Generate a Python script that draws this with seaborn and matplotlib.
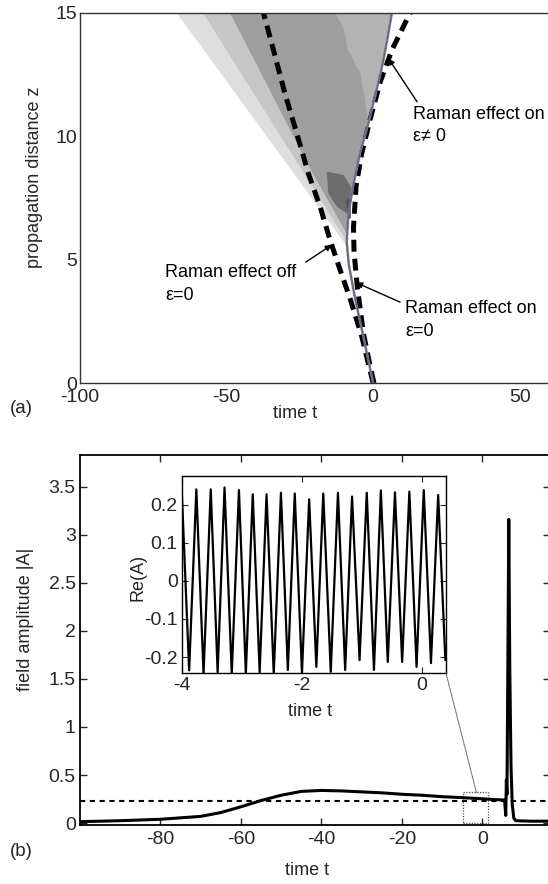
import numpy as np
import pandas as pd
import seaborn as sns
import matplotlib.pyplot as plt
from matplotlib.patches import Rectangle, ConnectionPatch

## ---------------- panel (a) data : trajectories in the (t, z) plane ----------------
# thin line from the simulations (Raman on, eps != 0)
traj_t = [0.0, -3.0, -6.1, -8.3, -9.0, -8.5, -6.8, -4.5, -1.7, 0.8, 3.0, 4.8, 6.4]
traj_z = [0.0, 1.7, 3.4, 4.8, 5.7, 6.8, 8.0, 9.3, 10.5, 11.7, 12.8, 13.9, 15.0]
# dashed curve, Raman effect off, eps = 0
off_t = [0.0, -3.9, -7.8, -11.3, -14.7, -18.1, -22.1, -26.0, -30.0, -34.0, -37.4]
off_z = [0.0, 1.9, 3.4, 4.6, 5.8, 7.15, 8.5, 10.1, 11.7, 13.5, 15.0]
# dashed curve, Raman effect on, eps = 0
on_t = [0.3, -0.5, -3.3, -5.4, -6.5, -6.7, -5.8, -3.9, -1.0, 2.4, 6.4, 12.6]
on_z = [0.0, 0.4, 2.0, 3.9, 5.3, 6.3, 8.0, 9.3, 10.7, 12.2, 13.5, 15.0]

# left edges of the gray contour levels (from the apex upwards)
lvl1_t, lvl1_z = [-9.3, -67.0], [5.6, 15.0]
lvl2_t, lvl2_z = [-9.3, -58.0], [5.8, 15.0]
lvl3_t, lvl3_z = [-9.2, -22.0, -48.8], [6.1, 8.8, 15.0]
# lighter patch in the upper right of the cone
patch_t = [-13.0, -11.5, -10.5, -9.5, -8.8, -7.5, -6.0, -4.4, -3.6, -2.8, -2.2, -1.7]
patch_z = [15.0, 14.7, 14.5, 14.1, 13.5, 13.3, 12.9, 12.6, 12.0, 11.6, 11.0, 10.5]
# dark blob
blob_t = [-15.8, -10.1, -7.3, -7.3, -9.0, -12.4, -15.3]
blob_z = [8.57, 8.43, 7.9, 7.4, 6.88, 7.15, 7.7]
core_t = [-9.2, -7.6, -7.6, -8.6]
core_z = [7.4, 7.5, 6.7, 6.6]
level_colors = ["#dedede", "#c6c6c6", "#9e9e9e", "#b3b3b3", "#6c6c6c", "#505050"]

## ---------------- panel (b) data : field amplitude ----------------
amp_t = [-100, -90, -80, -70, -65, -60, -55, -50, -45, -40, -35, -30, -25, -20, -15,
         -10, -5, 0, 3, 5.5, 5.8, 5.95, 6.1, 6.3, 6.55, 6.8, 7.1, 7.4, 7.8, 8.3, 12, 16.8]
amp_A = [0.015, 0.025, 0.04, 0.07, 0.11, 0.17, 0.235, 0.29, 0.33, 0.34, 0.335, 0.325, 0.315,
         0.30, 0.29, 0.275, 0.265, 0.253, 0.245, 0.24, 0.08, 0.45, 0.3, 1.5, 3.16, 1.6, 0.6,
         0.2, 0.05, 0.025, 0.02, 0.02]
ref_level = 0.235
box_t0, box_t1, box_A = -4.9, 1.5, 0.32

# inset Re(A): positions and values of the maxima / minima
peak_t = [-3.76, -3.52, -3.29, -3.05, -2.82, -2.59, -2.35, -2.12, -1.88, -1.645,
          -1.40, -1.165, -0.92, -0.685, -0.45, -0.21, 0.03, 0.27]
peak_v = [0.241, 0.241, 0.246, 0.239, 0.228, 0.228, 0.232, 0.23, 0.215, 0.23,
          0.232, 0.222, 0.232, 0.238, 0.233, 0.235, 0.239, 0.226]
trough_t = [-3.88, -3.64, -3.405, -3.17, -2.935, -2.705, -2.47, -2.235, -2.0, -1.76,
            -1.52, -1.28, -1.04, -0.80, -0.57, -0.33, -0.09, 0.15, 0.39]
trough_v = [-0.235, -0.245, -0.24, -0.245, -0.243, -0.24, -0.245, -0.234, -0.242, -0.226,
            -0.239, -0.234, -0.208, -0.234, -0.213, -0.213, -0.226, -0.216, -0.208]
start_t, start_v = -4.0, 0.225

a_xticks = [-100, -50, 0, 50]
a_yticks = [0, 5, 10, 15]
b_xticks = [-80, -60, -40, -20, 0]
b_yticks = [0, 0.5, 1, 1.5, 2, 2.5, 3, 3.5]
b_ylabels = ["0", "0.5", "1", "1.5", "2", "2.5", "3", "3.5"]
in_xticks = [-4, -2, 0]
in_yticks = [-0.2, -0.1, 0, 0.1, 0.2]
in_ylabels = ["-0.2", "-0.1", "0", "0.1", "0.2"]

sns.set_theme(style="white")
plt.rcParams['font.family'] = ['Liberation Sans', 'DejaVu Sans']
plt.rcParams['axes.edgecolor'] = 'black'

fig = plt.figure(figsize=(5.48, 8.84), dpi=100)

TICK = 14
LAB = 13

## ---- panel (a) ----
ax = fig.add_axes([0.146, 0.5667, 0.8558, 0.4186])

# gray levels: left edge up, then trajectory back down to the apex
apex = 4
right_t = traj_t[apex:][::-1]
right_z = traj_z[apex:][::-1]
for lt, lz, c in [(lvl1_t, lvl1_z, level_colors[0]),
                  (lvl2_t, lvl2_z, level_colors[1]),
                  (lvl3_t, lvl3_z, level_colors[2])]:
    ax.fill(lt + right_t, lz + right_z, color=c, lw=0)
ax.fill(patch_t + traj_t[8:], patch_z + traj_z[8:], color=level_colors[3], lw=0)
ax.fill(blob_t, blob_z, color=level_colors[4], lw=0)
ax.fill(core_t, core_z, color=level_colors[5], lw=0)

dash = (0, (2.4, 1.4))
sns.lineplot(x=off_t, y=off_z, sort=False, estimator=None, ax=ax,
             color='black', lw=3.6, linestyle=dash, dash_capstyle='butt')
sns.lineplot(x=on_t, y=on_z, sort=False, estimator=None, ax=ax,
             color='black', lw=3.6, linestyle=dash, dash_capstyle='butt')
sns.lineplot(x=traj_t, y=traj_z, sort=False, estimator=None, ax=ax,
             color='#8a7fa2', lw=1.8)
for c, off in [('#c0392b', 0), ('#2e8b57', 1.3), ('#3050c0', 2.6)]:
    ax.plot(traj_t, traj_z, color=c, lw=1.0, linestyle=(off, (1, 3)))

ax.set_xlim(-100, 60)
ax.set_ylim(0, 15)
ax.set_xticks(a_xticks)
ax.set_xticklabels([str(v) for v in a_xticks])
ax.set_yticks(a_yticks)
ax.set_yticklabels([str(v) for v in a_yticks])
ax.tick_params(length=0, labelsize=TICK, pad=2)
ax.tick_params(axis='x', pad=4)
ax.spines['right'].set_visible(False)
for s in ['top', 'left', 'bottom']:
    ax.spines[s].set_linewidth(1.0)
    ax.spines[s].set_color('#333333')
ax.set_xlabel("time t", fontsize=LAB, va='center')
ax.set_ylabel("propagation distance z", fontsize=LAB, va='center')
ax.xaxis.set_label_coords(0.458, -0.081)
ax.yaxis.set_label_coords(-0.096, 0.557)

txt = dict(fontsize=13, ha='left', va='top', linespacing=1.45, color='black')
arw = dict(arrowstyle='-|>', color='black', lw=1.0, mutation_scale=9, shrinkA=0, shrinkB=0)
ax.text(-71, 4.82, "Raman effect off\nε=0", **txt)
ax.annotate('', xy=(-14.1, 5.6), xytext=(-23.0, 4.9), arrowprops=arw)
ax.text(13.65, 11.25, "Raman effect on\nε≠ 0", **txt)
ax.annotate('', xy=(5.2, 13.16), xytext=(15.0, 11.4), arrowprops=arw)
ax.text(10.9, 3.36, "Raman effect on\nε=0", **txt)
ax.annotate('', xy=(-5.8, 4.07), xytext=(9.2, 3.28), arrowprops=arw)

fig.text(0.018, 0.538, "(a)", fontsize=13.5, va='center')

## ---- panel (b) ----
axb = fig.add_axes([0.146, 0.0667, 0.8577, 0.4186])
sns.lineplot(x=amp_t, y=amp_A, sort=False, estimator=None, ax=axb, color='black', lw=2.2)
axb.axhline(ref_level, color='black', lw=1.5, linestyle=(0, (2.5, 2.2)))
axb.add_patch(Rectangle((box_t0, 0), box_t1 - box_t0, box_A, fill=False,
                        ec='0.3', lw=0.9, linestyle=(0, (1, 1.2))))
axb.set_xlim(-100, 16.8)
axb.set_ylim(-0.02, 3.83)
axb.set_xticks(b_xticks)
axb.set_xticklabels([str(v) for v in b_xticks])
axb.set_yticks(b_yticks)
axb.set_yticklabels(b_ylabels)
axb.tick_params(direction='in', length=5, width=1.0, labelsize=TICK, pad=4,
                top=True, right=True, left=True, bottom=True)
axb.tick_params(axis='y', pad=3)
for s in axb.spines.values():
    s.set_linewidth(1.3)
axb.set_xlabel("time t", fontsize=LAB, va='center')
axb.set_ylabel("field amplitude |A|", fontsize=LAB, va='center')
axb.xaxis.set_label_coords(0.483, -0.122)
axb.yaxis.set_label_coords(-0.117, 0.557)
fig.text(0.018, 0.0373, "(b)", fontsize=13.5, va='center')

## ---- inset ----
re_t = [start_t]
re_v = [start_v]
for i in range(len(peak_t)):
    re_t += [trough_t[i], peak_t[i]]
    re_v += [trough_v[i], peak_v[i]]
re_t.append(trough_t[-1])
re_v.append(trough_v[-1])

axin = fig.add_axes([0.332, 0.2387, 0.4818, 0.2228])
sns.lineplot(x=re_t, y=re_v, sort=False, estimator=None, ax=axin, color='black', lw=1.6)
axin.set_xlim(-4, 0.4)
axin.set_ylim(-0.242, 0.276)
axin.set_xticks(in_xticks)
axin.set_xticklabels([str(v) for v in in_xticks])
axin.set_yticks(in_yticks)
axin.set_yticklabels(in_ylabels)
axin.tick_params(direction='in', length=4, width=0.8, labelsize=TICK, pad=3,
                 top=True, right=True, left=True, bottom=True)
for s in axin.spines.values():
    s.set_linewidth(1.0)
axin.set_xlabel("time t", fontsize=LAB, va='center')
axin.set_ylabel("Re(A)", fontsize=LAB, va='center')
axin.xaxis.set_label_coords(0.485, -0.198)
axin.yaxis.set_label_coords(-0.167, 0.487)

con = ConnectionPatch(xyA=(1, 0), coordsA=axin.transAxes,
                      xyB=(-1.5, box_A), coordsB=axb.transData,
                      color='0.4', lw=0.8, linestyle=(0, (1, 1)))
fig.add_artist(con)

fig.savefig("out.png", dpi=100)
